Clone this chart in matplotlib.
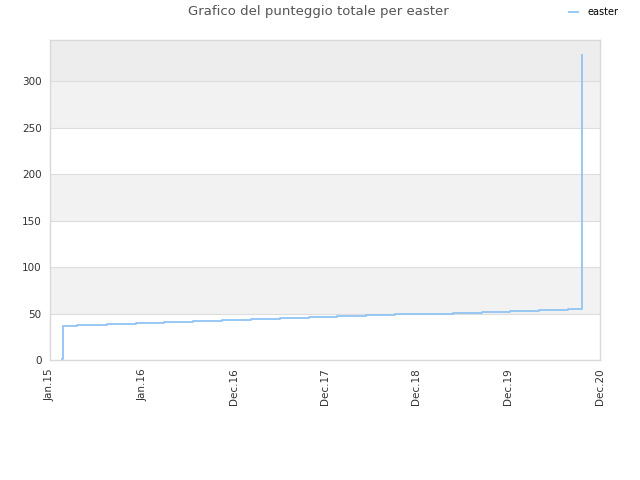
import matplotlib
matplotlib.use("Agg")
import matplotlib.pyplot as plt
import matplotlib.dates as mdates
import numpy as np
from datetime import datetime

# Data
dates = ["2015-02-16", "2015-02-20", "2015-04-19", "2015-08-12", "2015-12-04",
         "2016-03-24", "2016-07-16", "2016-11-07", "2017-03-01", "2017-06-23",
         "2017-10-15", "2018-02-02", "2018-05-27", "2018-09-18", "2019-01-10",
         "2019-05-04", "2019-08-26", "2019-12-14", "2020-04-06", "2020-07-29",
         "2020-09-22"]
values = [1, 37, 38, 39, 40, 41, 42, 43, 44, 45, 46, 47, 48, 49, 50, 51, 52,
          53, 54, 55, 56]
final_value = 328
series_name = "easter"
title = "Grafico del punteggio totale per easter"

tick_dates = ["2015-01-01", "2016-01-01", "2016-12-24", "2017-12-17",
              "2018-12-10", "2019-12-04", "2020-12-01"]
tick_labels = ["Jan.15", "Jan.16", "Dec.16", "Dec.17", "Dec.18", "Dec.19", "Dec.20"]
y_ticks = [0, 50, 100, 150, 200, 250, 300]

x = [datetime.strptime(d, "%Y-%m-%d") for d in dates]
x_all = x + [x[-1]]
y_all = values + [final_value]

fig = plt.figure(figsize=(6.4, 4.8), dpi=100)
ax = fig.add_axes([50/640, 120/480, 550/640, 320/480])

ymax = 344.5
ax.set_ylim(0, ymax)
ax.set_xlim(datetime(2015, 1, 1), datetime(2020, 12, 1))

# bands
for lo in (50, 150, 250):
    ax.axhspan(lo, lo + 50, color="#f2f2f2", zorder=0, lw=0)
ax.axhspan(300, ymax, color="#ededed", zorder=0, lw=0)
for yv in y_ticks[1:]:
    ax.axhline(yv, color="#dddddd", lw=0.8, zorder=1)

ax.plot(x_all, y_all, drawstyle="steps-post", color="#90c4f4", lw=1.3,
        label=series_name, zorder=3)

ax.set_yticks(y_ticks)
ax.set_xticks([datetime.strptime(d, "%Y-%m-%d") for d in tick_dates])
ax.set_xticklabels(tick_labels, rotation=90)
ax.tick_params(axis="both", length=0, labelsize=7.5, labelcolor="#333333", pad=6)
for s in ax.spines.values():
    s.set_color("#d9d9d9")
    s.set_linewidth(1)

fig.text(0.497, 1 - 12/480, title, ha="center", va="center", fontsize=9.5,
         color="#555555")
leg = fig.legend(loc="center left", bbox_to_anchor=(569/640, 1 - 12/480),
                 frameon=False, fontsize=7, handlelength=0.9, handletextpad=1.0,
                 borderaxespad=0, borderpad=0)

fig.savefig("out.png", dpi=100)
